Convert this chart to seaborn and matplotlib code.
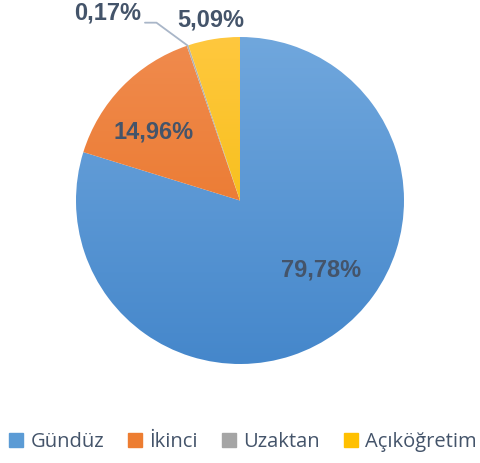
import numpy as np
import seaborn as sns
import matplotlib
matplotlib.use("Agg")
from matplotlib import pyplot as plt
from matplotlib import font_manager as fm
from matplotlib.colors import LinearSegmentedColormap
from matplotlib.patches import Rectangle

categories = ["Gündüz", "İkinci", "Uzaktan", "Açıköğretim"]
shares = [79.78, 14.96, 0.17, 5.09]
# gradient colours (top, bottom) per slice
top_colors = ["#70a7dd", "#f08b4e", "#b4b4b4", "#ffc83e"]
bottom_colors = ["#4587cb", "#e86f1d", "#959595", "#f0b800"]
legend_colors = ["#5b9bd5", "#ed7d31", "#a5a5a5", "#ffc000"]

TEXT_COLOR = "#44546a"
# label placement: (radius, angle shift in degrees from the slice middle)
LABEL_PLACE = [(0.65, 12.8), (0.675, 5.8), None, (1.12, 0.0)]


def pct_label(v):
    return f"{v:.2f}%".replace(".", ",")


def bold_font(size):
    for f in fm.fontManager.ttflist:
        if (f.name == "Liberation Sans" and f.weight in (700, "bold")
                and f.style == "normal" and "Narrow" not in f.fname):
            return fm.FontProperties(fname=f.fname, size=size)
    return fm.FontProperties(family="DejaVu Sans", weight="bold", size=size)


def main():
    sns.set_style("white")
    plt.rcParams["font.family"] = ["Liberation Sans", "DejaVu Sans"]

    fig = plt.figure(figsize=(4.81, 4.63), dpi=100)
    ax = fig.add_axes([76 / 481, (463 - 364) / 463, 328 / 481, 327 / 463])

    wedges, _ = ax.pie(shares, startangle=90, counterclock=False, radius=1.0,
                       colors=legend_colors, wedgeprops=dict(linewidth=0))

    grad = np.linspace(0, 1, 256).reshape(-1, 1)
    for w, c_top, c_bot in zip(wedges, top_colors, bottom_colors):
        cmap = LinearSegmentedColormap.from_list("g", [c_top, c_bot])
        w.set_facecolor("none")
        im = ax.imshow(grad, cmap=cmap, extent=(-1, 1, -1, 1), origin="upper",
                       aspect="auto", interpolation="bilinear", zorder=1)
        im.set_clip_path(w)

    fp = bold_font(17)
    lab = dict(ha="center", va="center", fontproperties=fp, color=TEXT_COLOR, zorder=3)
    for w, v, place in zip(wedges, shares, LABEL_PLACE):
        mid = (w.theta1 + w.theta2) / 2
        if place is None:
            # tiny slice: label outside with a leader line
            cx, cy = np.cos(np.deg2rad(mid)), np.sin(np.deg2rad(mid))
            tx, ty = cx - 0.49, cy + 0.2
            ax.plot([cx, cx - 0.19, cx - 0.26], [cy, ty - 0.06, ty - 0.06],
                    color="#a9b6c8", lw=1.3, zorder=2, clip_on=False)
            ax.text(tx, ty, pct_label(v), **lab)
        else:
            r, shift = place
            a = np.deg2rad(mid + shift)
            ax.text(r * np.cos(a), r * np.sin(a), pct_label(v), **lab)

    ax.set_xlim(-1, 1)
    ax.set_ylim(-1, 1)
    ax.set_aspect("auto")
    ax.axis("off")

    handles = [Rectangle((0, 0), 1, 1, color=c) for c in legend_colors]
    fig.legend(handles, categories, loc="center", bbox_to_anchor=(0.505, 21 / 463),
               ncol=4, frameon=False, handlelength=0.7, handleheight=0.7,
               handletextpad=0.35, columnspacing=1.2,
               prop={"family": "Open Sans", "size": 14.5}, labelcolor=TEXT_COLOR)

    fig.savefig("out.png", dpi=100)


if __name__ == "__main__":
    main()
